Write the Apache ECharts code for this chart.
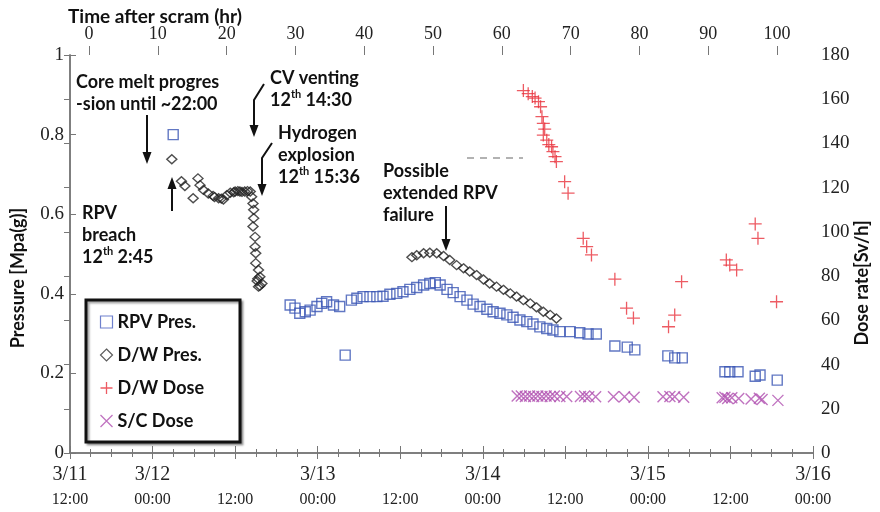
<!DOCTYPE html>
<html>
<head>
<meta charset="utf-8">
<script src="https://cdn.jsdelivr.net/npm/echarts@6/dist/echarts.min.js"></script>
<style>html,body{margin:0;background:#fff}#chart{width:880px;height:512px}</style>
</head>
<body>
<div id="chart"></div>
<script>
var chart = echarts.init(document.getElementById('chart'));

// x = hours after 3/11 12:00, scram at 14:46
var scramOffset = 2.77;
var dateTicks = [0, 12, 24, 36, 48, 60, 72, 84, 96, 108];
var dateLabels = ['3/11|12:00', '3/12|00:00', '|12:00', '3/13|00:00', '|12:00', '3/14|00:00', '|12:00', '3/15|00:00', '|12:00', '3/16|00:00'];
var scramTicks = [0, 10, 20, 30, 40, 50, 60, 70, 80, 90, 100];

// [hour, MPa(g)]
var rpvPres = [
    [15.0, 0.800], [32.0, 0.372], [32.7, 0.364], [33.4, 0.351], [34.2, 0.355], [34.9, 0.359],
    [35.9, 0.368], [36.6, 0.376], [37.3, 0.380], [38.3, 0.372], [39.2, 0.368], [40.0, 0.246],
    [40.9, 0.384], [41.7, 0.389], [42.6, 0.393], [43.6, 0.393], [44.6, 0.393], [45.5, 0.394],
    [46.5, 0.399], [47.5, 0.401], [48.4, 0.405], [49.4, 0.411], [50.4, 0.416], [51.4, 0.422],
    [52.3, 0.426], [53.1, 0.428], [53.8, 0.422], [54.8, 0.411], [55.7, 0.403], [56.7, 0.393],
    [57.7, 0.384], [58.6, 0.374], [59.6, 0.368], [60.6, 0.361], [61.5, 0.355], [62.5, 0.351],
    [63.5, 0.347], [64.4, 0.341], [65.4, 0.334], [66.4, 0.330], [67.3, 0.324], [68.3, 0.317],
    [69.3, 0.313], [70.2, 0.309], [71.2, 0.305], [72.7, 0.305], [74.1, 0.302], [75.3, 0.299],
    [76.5, 0.299], [79.2, 0.269], [81.0, 0.266], [82.1, 0.259], [86.9, 0.244], [87.9, 0.239],
    [89.0, 0.239], [95.2, 0.204], [95.9, 0.204], [97.1, 0.204], [99.6, 0.193], [100.3, 0.196],
    [102.8, 0.183]
];
var dwPres = [
    [14.8, 0.738], [16.2, 0.683], [16.7, 0.671], [17.9, 0.640], [18.6, 0.690], [18.9, 0.673],
    [19.4, 0.661], [20.1, 0.652], [20.8, 0.646], [21.0, 0.643], [21.6, 0.640], [22.0, 0.639],
    [22.3, 0.637], [22.8, 0.648], [23.3, 0.654], [23.8, 0.655], [24.0, 0.657], [24.4, 0.658],
    [24.7, 0.657], [25.0, 0.656], [25.4, 0.657], [25.8, 0.658], [26.2, 0.657], [26.4, 0.644],
    [26.6, 0.627], [26.7, 0.611], [26.7, 0.590], [26.6, 0.569], [26.9, 0.543], [26.9, 0.518],
    [27.0, 0.502], [27.0, 0.477], [27.4, 0.460], [27.6, 0.443], [27.3, 0.438], [27.2, 0.432],
    [27.9, 0.426], [27.6, 0.420], [27.4, 0.418],
    [49.7, 0.492], [50.4, 0.497], [51.4, 0.502], [52.3, 0.503], [53.3, 0.502], [54.3, 0.495],
    [55.2, 0.485], [56.2, 0.472], [57.2, 0.464], [58.1, 0.456], [59.1, 0.447], [60.1, 0.436],
    [61.0, 0.426], [62.0, 0.418], [63.0, 0.410], [64.0, 0.401], [64.9, 0.393], [65.9, 0.384],
    [66.9, 0.376], [67.8, 0.366], [68.8, 0.355], [69.8, 0.347], [70.7, 0.338]
];
// [hour, Sv/h]
var dwDose = [
    [65.9, 163.9], [66.6, 162.5], [67.2, 161.2], [67.6, 160.5], [68.1, 158.9], [68.4, 156.6],
    [68.6, 152.1], [68.8, 149.1], [69.0, 146.5], [68.8, 143.8], [69.3, 141.5], [69.6, 139.5],
    [70.0, 138.5], [70.2, 136.3], [70.5, 134.0], [70.7, 131.8], [71.9, 122.7], [72.4, 117.5],
    [74.6, 97.1], [75.1, 93.3], [75.8, 89.6], [79.2, 78.6], [80.9, 65.5], [81.9, 61.0],
    [87.0, 57.1], [87.9, 62.4], [88.9, 77.5], [95.4, 87.3], [95.9, 85.0], [96.9, 82.8],
    [99.6, 103.6], [100.0, 97.1], [102.7, 68.4]
];
var scDose = [
    [65.0, 25.8], [65.6, 25.8], [66.2, 25.6], [66.8, 25.8], [67.4, 25.6], [68.0, 25.8],
    [68.6, 25.6], [69.2, 25.8], [69.8, 25.6], [70.4, 25.8], [71.2, 25.6], [72.2, 25.6],
    [74.2, 25.6], [74.8, 25.8], [75.4, 25.4], [76.4, 25.4], [79.0, 25.4], [80.6, 25.4],
    [82.0, 25.2], [86.2, 25.4], [87.2, 25.6], [87.9, 25.4], [89.2, 25.2], [94.8, 25.0],
    [95.2, 25.2], [95.6, 24.6], [96.2, 25.0], [97.2, 24.6], [99.0, 24.4], [100.2, 24.8],
    [100.6, 24.2], [102.9, 23.8]
];

var SERIF = '"Liberation Serif", "DejaVu Serif", serif';
var SANS = 'Lato, "Liberation Sans", sans-serif';
var AXIS = '#777';
var INK = '#111';

var plusPath = 'path://M0,6 L12,6 M6,0 L6,12';
var crossPath = 'path://M0,0 L10,10 M10,0 L0,10';

function note(x, top, text) {
    return {
        type: 'text', x: x, y: top, z: 50,
        style: {
            text: text, fill: INK, fontFamily: SANS, fontWeight: 'bold', fontSize: 18,
            lineHeight: 22, align: 'left', verticalAlign: 'top', textAlign: 'left', textVerticalAlign: 'top',
            rich: {
                n: {fontFamily: SANS, fontWeight: 'bold', fontSize: 18, lineHeight: 22, fill: INK},
                s: {fontFamily: SANS, fontWeight: 'bold', fontSize: 11, lineHeight: 12, verticalAlign: 'top', fill: INK}
            }
        }
    };
}
function arrow(pts) {
    var n = pts.length, tip = pts[n - 1], prev = pts[n - 2];
    var dir = tip[1] > prev[1] ? 1 : -1;
    var shaft = pts.slice(0, n - 1).concat([[tip[0], tip[1] - dir * 10]]);
    return [
        {type: 'polyline', z: 50, shape: {points: shaft}, style: {stroke: INK, lineWidth: 2, fill: null}},
        {type: 'polygon', z: 50, shape: {points: [[tip[0] - 4.5, tip[1] - dir * 12], [tip[0] + 4.5, tip[1] - dir * 12], tip]}, style: {fill: INK}}
    ];
}

var graphics = [
    {type: 'text', x: 68, y: 17, style: {text: 'Time after scram (hr)', fill: INK, fontFamily: SANS, fontWeight: 'bold', fontSize: 19, align: 'left', verticalAlign: 'middle', textAlign: 'left', textVerticalAlign: 'middle'}},
    {type: 'text', x: 18, y: 278, rotation: Math.PI / 2, style: {text: 'Pressure [Mpa(g)]', fill: INK, fontFamily: SANS, fontWeight: 'bold', fontSize: 18, align: 'center', verticalAlign: 'middle', textAlign: 'center', textVerticalAlign: 'middle'}},
    {type: 'text', x: 862, y: 283, rotation: Math.PI / 2, style: {text: 'Dose rate[Sv/h]', fill: INK, fontFamily: SANS, fontWeight: 'bold', fontSize: 18, align: 'center', verticalAlign: 'middle', textAlign: 'center', textVerticalAlign: 'middle'}},
    note(76, 71, 'Core melt progres\n-sion until ~22:00'),
    note(82, 202, 'RPV\nbreach\n{n|12}{s|th}{n| 2:45}'),
    note(270, 67, 'CV venting\n{n|12}{s|th}{n| 14:30}'),
    note(278, 122, 'Hydrogen\nexplosion\n{n|12}{s|th}{n| 15:36}'),
    note(383, 160, 'Possible\nextended RPV\nfailure'),
    {type: 'polyline', z: 40, shape: {points: [[467, 158], [523, 158]]}, style: {stroke: '#999', lineWidth: 1.5, lineDash: [7, 6], fill: null}}
].concat(
    arrow([[147, 115], [147, 164]]),
    arrow([[172, 211], [172, 177]]),
    arrow([[264, 84], [254, 100], [254, 137]]),
    arrow([[272, 143], [262, 158], [262, 196]]),
    arrow([[446, 206], [446, 251]])
);

var option = {
    backgroundColor: '#fff',
    animation: false,
    grid: {left: 70, right: 67, top: 55, bottom: 59, containLabel: false},
    legend: {
        orient: 'vertical', left: 86, top: 300,
        padding: [13, 36, 12, 12], itemGap: 15, itemWidth: 12, itemHeight: 12,
        borderColor: INK, borderWidth: 3, backgroundColor: '#fff',
        shadowColor: 'rgba(0,0,0,0.35)', shadowBlur: 2, shadowOffsetX: 2, shadowOffsetY: 2,
        textStyle: {fontFamily: SANS, fontWeight: 'bold', fontSize: 18, color: INK},
        data: [
            {name: 'RPV Pres.', icon: 'rect', itemStyle: {color: 'none', borderColor: '#4a60c0', borderWidth: 1.2}},
            {name: 'D/W Pres.', icon: 'diamond', itemStyle: {color: 'none', borderColor: '#333', borderWidth: 1.2}},
            {name: 'D/W Dose', icon: plusPath, itemStyle: {color: 'none', borderColor: '#e8323c', borderWidth: 1.3}},
            {name: 'S/C Dose', icon: crossPath, itemStyle: {color: 'none', borderColor: '#b050b0', borderWidth: 1.3}}
        ]
    },
    xAxis: [{
        type: 'value', position: 'bottom', min: 0, max: 108, interval: 12,
        axisLine: {lineStyle: {color: AXIS, width: 1.5}},
        axisTick: {inside: true, length: 7, lineStyle: {color: AXIS}},
        minorTick: {show: true, splitNumber: 4, length: 4, lineStyle: {color: AXIS}},
        splitLine: {show: false},
        axisLabel: {
            margin: 9, color: '#222',
            formatter: function (v) {
                var i = dateTicks.indexOf(Math.round(v));
                if (i < 0) return '';
                var p = dateLabels[i].split('|');
                return '{d|' + (p[0] || ' ') + '}\n{t|' + p[1] + '}';
            },
            rich: {
                d: {fontFamily: SERIF, fontSize: 20, lineHeight: 25, color: '#222'},
                t: {fontFamily: SERIF, fontSize: 16, lineHeight: 25, color: '#222'}
            }
        }
    }, {
        type: 'value', position: 'top', min: 0, max: 108, interval: 12,
        axisLine: {lineStyle: {color: AXIS, width: 1.5}},
        axisTick: {inside: true, length: 6, lineStyle: {color: AXIS}},
        minorTick: {show: true, splitNumber: 4, length: 4, lineStyle: {color: AXIS}},
        splitLine: {show: false},
        axisLabel: {show: false}
    }, {
        type: 'value', position: 'top', min: -scramOffset, max: 108 - scramOffset,
        axisLine: {show: false},
        axisTick: {show: true, inside: false, length: 9, customValues: scramTicks, lineStyle: {color: AXIS}},
        splitLine: {show: false},
        axisLabel: {customValues: scramTicks, margin: 12, fontFamily: SERIF, fontSize: 18, color: '#222'}
    }],
    yAxis: [{
        type: 'value', min: 0, max: 1, interval: 0.2,
        axisLine: {show: true, lineStyle: {color: AXIS, width: 1.5}},
        axisTick: {show: true, inside: true, length: 6, lineStyle: {color: AXIS}},
        splitLine: {show: false},
        axisLabel: {margin: 6, fontFamily: SERIF, fontSize: 19, color: '#222'}
    }, {
        type: 'value', min: 0, max: 180, interval: 20, position: 'right',
        axisLine: {show: true, lineStyle: {color: AXIS, width: 1.5}},
        axisTick: {show: true, inside: true, length: 6, lineStyle: {color: AXIS}},
        splitLine: {show: false},
        axisLabel: {margin: 8, fontFamily: SERIF, fontSize: 19, color: '#222'}
    }],
    series: [{
        name: 'RPV Pres.', type: 'scatter', xAxisIndex: 0, yAxisIndex: 0,
        symbol: 'rect', symbolSize: 10, data: rpvPres,
        itemStyle: {color: 'none', borderColor: '#3a55b4', borderWidth: 1.4}
    }, {
        name: 'D/W Pres.', type: 'scatter', xAxisIndex: 0, yAxisIndex: 0,
        symbol: 'diamond', symbolSize: [10, 9], data: dwPres,
        itemStyle: {color: 'none', borderColor: '#222', borderWidth: 1.4}
    }, {
        name: 'D/W Dose', type: 'scatter', xAxisIndex: 0, yAxisIndex: 1,
        symbol: plusPath, symbolSize: 13, data: dwDose,
        itemStyle: {color: 'none', borderColor: '#e8323c', borderWidth: 1.3}
    }, {
        name: 'S/C Dose', type: 'scatter', xAxisIndex: 0, yAxisIndex: 1,
        symbol: crossPath, symbolSize: 11, data: scDose,
        itemStyle: {color: 'none', borderColor: '#b050b0', borderWidth: 1.4}
    }],
    graphic: graphics
};
chart.setOption(option);
</script>
</body>
</html>
